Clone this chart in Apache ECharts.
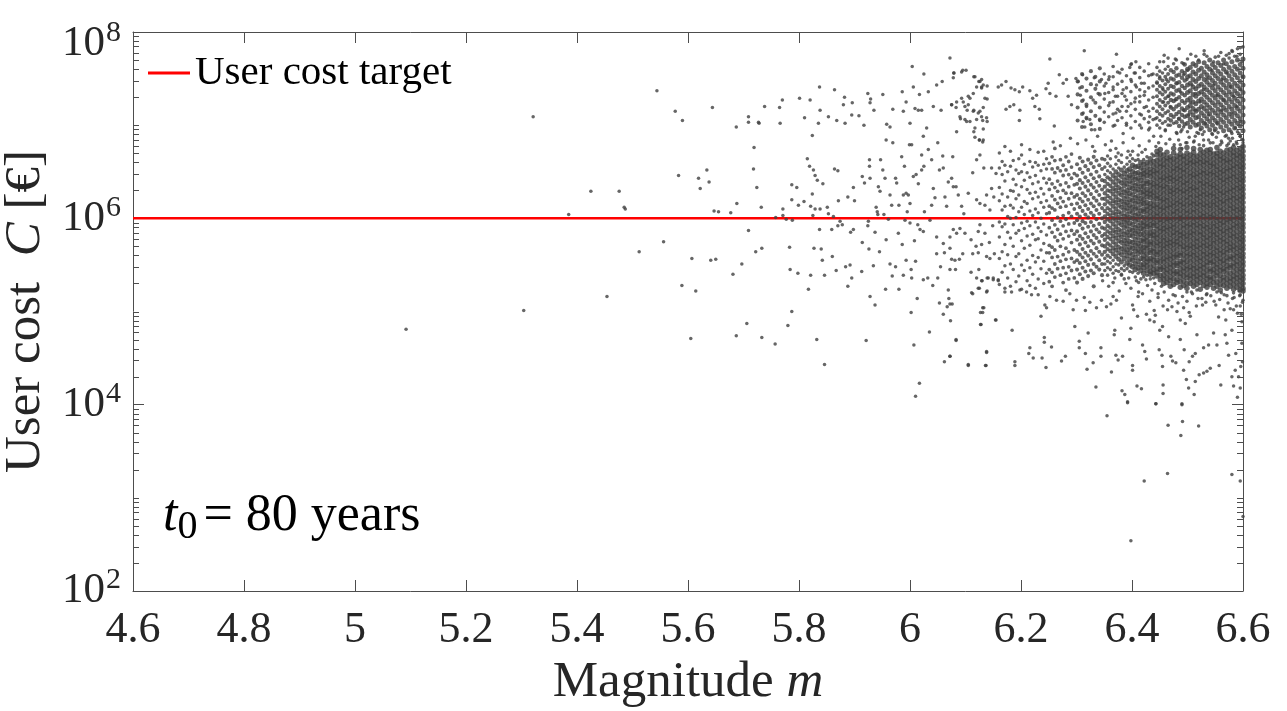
<!DOCTYPE html>
<html>
<head>
<meta charset="utf-8">
<script src="https://cdn.jsdelivr.net/npm/echarts@6/dist/echarts.min.js"></script>
<style>
  html, body { margin: 0; padding: 0; background: #ffffff; }
  #chart { width: 1287px; height: 711px; }
</style>
</head>
<body>
<div id="chart"></div>
<script>
// Axis ranges and labelled decades
const magnitudeMin = 4.6;
const magnitudeMax = 6.6;
const magnitudeStep = 0.2;
const costExpMin = 2;
const costExpMax = 8;
const costLabelExponents = [2, 4, 6, 8];
const targetCost = 1e6;

// Individual events, [magnitude, log10 of user cost in €]
const eventsWest = [
  [5.092,4.81],[5.304,5.01],[5.321,7.09],[5.385,6.04],[5.425,6.29],[5.476,6.29],[5.485,6.12],[5.487,6.10],[5.512,5.64],[5.454,5.16],
  [5.544,7.37],[5.577,7.15],[5.590,7.05],[5.644,7.19],[5.687,6.98],[5.709,7.09],[5.709,7.03],[5.727,7.03],[5.728,7.02],[5.738,7.20],
  [5.770,7.27],[5.765,7.19],[5.766,7.02],[5.801,7.29],[5.820,7.27],[5.837,7.41],[5.864,7.38],[5.810,7.08],[5.835,7.02],[5.838,7.16],
  [5.853,7.09],[5.868,7.05],[5.883,7.02],[5.880,7.22],[5.896,7.24],[5.895,7.11],[5.908,7.10],[5.882,7.30],[5.917,7.00],[5.924,7.34],
  [5.929,7.28],[5.928,7.24],[5.935,7.16],[5.951,7.33],[5.958,7.01],[5.964,6.98],[5.969,7.17],[5.986,7.36],[6.004,7.63],[6.025,7.55],
  [6.006,7.41],[5.993,7.25],[5.988,7.15],[6.009,7.18],[6.015,7.16],[6.021,7.16],[6.017,7.33],[6.033,7.36],[6.048,7.43],[6.058,7.47],
  [6.079,7.56],[6.093,7.57],[6.101,7.59],[6.115,7.52],[6.126,7.47],[6.129,7.41],[6.139,7.42],[6.078,7.51],[6.042,7.20],[6.056,7.16],
  [6.075,7.22],[6.083,7.19],[6.096,7.25],[6.105,7.22],[6.114,7.15],[6.123,7.13],[6.129,7.09],[6.139,7.04],[6.091,7.07],[6.102,7.04],
  [6.108,7.29],[6.135,7.29],[6.117,6.97],[6.030,6.97],[6.024,6.88],[6.000,7.02],
  [5.719,6.76],[5.718,6.53],[5.724,6.33],[5.583,6.46],[5.619,6.43],[5.622,6.32],[5.634,6.52],[5.638,6.39],[5.647,6.08],[5.655,6.07],
  [5.677,6.06],[5.688,6.16],[5.732,6.12],[5.815,6.64],[5.819,6.56],[5.826,6.52],[5.829,6.46],[5.833,6.41],[5.843,6.37],[5.824,6.89],
  [5.787,6.36],[5.796,6.33],[5.787,6.20],[5.771,6.10],[5.799,6.14],[5.809,6.18],[5.824,6.26],[5.821,6.13],[5.829,6.10],[5.838,6.10],
  [5.851,6.12],[5.825,6.03],[5.853,6.05],[5.864,6.53],[5.870,6.51],[5.871,6.19],[5.888,6.23],[5.900,6.19],[5.898,6.33],[5.914,6.45],
  [5.927,6.63],[5.927,6.56],[5.928,6.43],[5.918,6.38],[5.947,6.63],[5.951,6.52],[5.943,6.34],[5.946,6.29],[5.955,6.43],[5.957,6.84],
  [5.969,6.81],[5.974,6.43],[5.976,6.38],[5.964,6.25],[5.967,6.14],[5.939,6.12],[5.941,6.07],[5.953,6.04],[5.980,6.14],[5.988,6.25],
  [5.985,6.66],[5.990,6.56],[5.993,6.27],[5.997,6.25],[6.000,6.16],[5.995,6.07],[6.006,6.45],[6.011,6.47],[6.015,6.37],[6.021,6.52],
  [6.025,6.56],[6.021,6.68],[5.999,6.79],[6.003,6.79],[6.033,6.74],[6.039,6.63],[6.050,6.81],[6.059,6.67],[6.077,6.66],[6.053,6.52],
  [6.060,6.54],[6.069,6.39],[6.075,6.43],[6.078,6.34],[6.083,6.34],[6.087,6.25],[6.063,6.23],[6.066,6.13],[6.042,6.32],[6.045,6.22],
  [6.039,6.14],[6.026,6.07],[6.093,6.13],[6.097,6.05],[6.105,6.27],[6.113,6.49],[6.120,6.63],[6.126,6.68],[6.131,6.82],[6.125,6.84],
  [6.120,6.20],[6.126,6.16],[6.135,6.14],[6.138,6.25],[6.147,6.32],[6.155,6.48],[6.147,6.54],[6.133,6.54],[6.151,6.23],[6.144,6.09],
  [5.709,5.87],[5.556,5.75],[5.607,5.57],[5.641,5.55],[5.650,5.56],[5.589,5.28],[5.614,5.22],[5.605,4.71],[5.687,4.74],[5.706,4.87],
  [5.733,4.72],[5.757,4.65],[5.780,4.85],[5.787,5.00],[5.697,5.51],[5.681,5.40],[5.722,5.64],[5.733,5.68],[5.783,5.69],[5.784,5.45],
  [5.798,5.41],[5.817,5.24],[5.821,5.39],[5.827,5.68],[5.840,5.67],[5.842,5.55],[5.846,5.39],[5.860,5.59],[5.867,5.44],[5.837,5.88],
  [5.859,5.88],[5.878,5.93],[5.893,5.85],[5.884,5.48],[5.892,5.50],[5.895,5.36],[5.888,5.27],[5.913,5.43],[5.914,5.74],[5.926,5.67],
  [5.924,5.92],[5.937,5.85],[5.934,5.49],[5.928,5.16],[5.937,5.07],[5.921,4.69],[5.832,4.70],[5.846,4.43],[5.945,5.64],[5.957,5.77],
  [5.956,5.24],[5.964,5.51],[5.968,5.38],[5.974,5.48],[5.980,5.24],[5.986,5.72],[5.993,5.55],[6.010,5.54],[6.002,5.45],[5.988,5.39],
  [6.003,5.36],[6.008,5.76],[6.013,5.14],[6.002,4.99],[6.007,4.64],[6.017,4.23],[6.010,4.09],[6.024,5.34],[6.032,5.36],[6.041,5.28],
  [6.050,5.36],[6.048,5.62],[6.060,5.73],[6.062,5.63],[6.072,5.68],[6.075,5.56],[6.081,5.55],[6.089,5.56],[6.095,5.62],[6.055,5.48],
  [6.082,5.45],[6.069,5.23],[6.070,5.14],[6.067,5.05],[6.076,5.08],[6.060,4.97],[6.053,5.09],[6.035,4.78],[6.073,4.90],[6.083,4.69],
  [6.072,4.52],[6.062,4.46],[6.105,4.43],[6.137,4.42],[6.138,4.56],[6.128,4.86],[6.127,4.99],[6.133,5.04],[6.113,5.19],[6.125,5.25],
  [6.139,5.22],[6.155,4.91],[6.110,5.42],[6.124,5.45],[6.130,5.33],[6.141,5.36],[6.150,5.36],[6.159,5.34],[6.113,5.62],[6.123,5.63],
  [6.138,5.59],[6.144,5.57],[6.152,5.62],[6.143,5.74],[6.129,5.72],[6.119,5.70],[6.110,5.77],[6.090,5.89],[6.078,5.88],[6.084,5.84],
  [6.099,5.84],[6.123,5.86],[6.135,5.84],[6.126,5.93],[6.149,5.92],[6.072,5.80],[6.048,5.80],[6.024,5.86],[6.018,5.88],[6.036,5.98],
  [6.014,5.93],[6.000,5.95],[5.991,5.98],[5.979,5.84],[5.961,5.99],[5.942,6.04],[5.925,5.97],[5.898,5.88],[5.874,5.97],[5.870,5.92],
  [5.777,5.99],[5.771,6.03],[5.758,6.01],[5.788,5.98],[5.862,6.02]
];

// Events of the upper band, [magnitude, log10 of user cost in €]
const eventsUpperRight = [
  [6.314,7.80],[6.372,7.76],[6.252,7.71],[6.485,7.82],[6.458,7.75],[6.457,7.68],[6.478,7.71],[6.493,7.66],[6.506,7.76],[6.520,7.70],
  [6.530,7.80],[6.535,7.74],[6.547,7.68],[6.556,7.74],[6.565,7.66],[6.575,7.77],[6.581,7.79],[6.589,7.74],[6.595,7.83],[6.598,7.68],
  [6.399,7.66],[6.407,7.68],[6.396,7.62],[6.404,7.56],[6.378,7.56],[6.072,7.72],[6.079,7.56],[6.095,7.59],[6.117,7.52],[6.129,7.49],
  [6.124,7.47],[6.132,7.43],[6.120,7.41],[6.129,7.40],[6.114,7.34],[6.105,7.31],[6.093,7.29],[6.084,7.25],[6.075,7.22],[6.099,7.20],
  [6.103,7.16],[6.115,7.16],[6.126,7.15],[6.139,7.28],[6.132,7.19],[6.090,7.09],[6.099,7.06],[6.108,7.04],[6.120,7.06],[6.131,7.05],
  [6.138,7.08],[6.132,6.96],[6.115,6.93],[6.117,6.87],[6.125,6.84],[6.132,6.84],[6.084,6.93],[6.165,7.43],[6.173,7.47],[6.159,7.41],
  [6.182,7.40],[6.189,7.38],[6.197,7.36],[6.203,7.41],[6.187,7.22],[6.173,7.17],[6.180,7.20],[6.198,7.16],[6.197,7.05],[6.216,7.37],
  [6.221,7.29],[6.228,7.32],[6.225,7.20],[6.233,7.17],[6.234,7.07],[6.245,7.39],[6.249,7.45],[6.252,7.34],[6.260,6.99],[6.263,7.31],
  [6.269,7.54],[6.276,7.45],[6.282,7.49],[6.285,7.31],[6.291,7.22],[6.299,7.50],[6.303,7.47],[6.311,7.54],[6.306,7.40],[6.307,7.32],
  [6.312,7.27],[6.318,7.20],[6.312,7.13],[6.318,7.07],[6.315,6.98],[6.327,6.95],[6.333,6.95],[6.312,7.04],[6.324,7.06],[6.342,7.05],
  [6.332,7.51],[6.336,7.43],[6.345,7.49],[6.353,7.45],[6.359,7.52],[6.366,7.41],[6.370,7.31],[6.360,7.24],[6.351,7.34],[6.339,7.34],
  [6.330,7.27],[6.384,7.38],[6.387,7.31],[6.393,7.20],[6.378,7.15],[6.371,7.13],[6.369,7.00],[6.390,7.00],[6.384,6.91],[6.399,7.47],
  [6.408,7.41],[6.417,7.45],[6.423,7.36],[6.414,7.31],[6.405,7.25],[6.426,7.20],[6.417,7.11],[6.432,7.09],[6.417,6.97],[6.432,6.97],
  [6.442,7.07],[6.439,6.88],[6.448,6.81],[6.435,7.54],[6.445,7.45],[6.450,7.52],[6.462,7.49],[6.456,7.38],[6.466,7.31],[6.457,7.25],
  [6.469,7.20],[6.478,7.27],[6.487,7.36],[6.481,7.45],[6.493,7.54],[6.499,7.49],[6.500,7.59],[6.508,7.43],[6.514,7.34],[6.505,7.25],
  [6.493,7.16],[6.484,7.07],[6.469,7.00],[6.460,6.95],[6.481,6.91],[6.493,6.98],[6.502,7.11],[6.514,7.16],[6.523,7.25],[6.529,7.38],
  [6.535,7.50],[6.544,7.59],[6.547,7.43],[6.553,7.32],[6.538,7.11],[6.532,7.02],[6.523,6.95],[6.514,6.88],[6.499,6.81],[6.490,6.75],
  [6.529,6.84],[6.544,6.91],[6.553,7.02],[6.562,7.16],[6.565,7.27],[6.562,7.49],[6.571,7.56],[6.577,7.41],[6.583,7.31],[6.580,7.13],
  [6.589,7.20],[6.596,7.38],[6.599,7.52],[6.595,7.04],[6.586,6.97],[6.574,6.86],[6.562,6.81],[6.595,6.88],[6.599,6.77],[6.583,6.79]
];

// Sparse events below the main cluster, [magnitude, log10 of user cost in €]
const eventsLowerTail = [
  [6.072,5.08],[6.083,4.70],[6.072,4.52],[6.105,4.42],[6.136,4.42],[6.138,4.57],[6.127,4.86],[6.131,4.99],[6.131,5.04],[6.154,4.91],
  [6.184,4.80],[6.189,4.46],[6.189,4.42],[6.216,4.61],[6.214,4.55],[6.222,4.50],[6.238,4.50],[6.245,4.40],[6.242,4.72],[6.242,4.67],
  [6.255,4.62],[6.236,4.95],[6.246,5.04],[6.273,4.47],[6.280,4.52],[6.297,4.84],[6.294,5.02],[6.305,4.68],[6.305,4.61],[6.316,5.01],
  [6.321,4.77],[6.316,4.55],[6.319,4.38],[6.330,4.45],[6.344,4.61],[6.344,4.52],[6.335,4.19],[6.363,4.35],[6.369,4.80],[6.368,4.75],
  [6.371,4.53],[6.375,4.48],[6.383,4.52],[6.382,4.15],[6.387,4.11],[6.392,4.03],[6.381,4.93],[6.398,4.82],[6.396,4.70],[6.401,4.42],
  [6.401,4.37],[6.409,4.20],[6.417,4.17],[6.419,4.64],[6.410,4.95],[6.423,4.57],[6.426,4.49],[6.432,4.91],[6.440,4.89],[6.443,4.01],
  [6.450,4.80],[6.455,4.84],[6.449,4.59],[6.454,4.53],[6.455,4.41],[6.456,4.21],[6.456,4.12],[6.466,4.73],[6.470,4.52],[6.473,4.47],
  [6.479,4.45],[6.487,4.70],[6.490,4.01],[6.494,4.59],[6.493,4.37],[6.498,4.27],[6.502,4.18],[6.512,4.11],[6.503,4.46],[6.509,4.52],
  [6.514,4.55],[6.517,4.75],[6.514,4.25],[6.521,4.32],[6.529,4.34],[6.535,4.36],[6.541,4.39],[6.529,4.61],[6.538,4.64],[6.547,4.77],
  [6.553,4.64],[6.557,4.42],[6.560,4.21],[6.566,5.02],[6.569,4.91],[6.574,4.53],[6.580,4.30],[6.583,4.20],[6.586,4.37],[6.590,4.08],
  [6.595,4.18],[6.596,4.41],[6.598,4.66],[6.598,4.89],[6.599,4.46],[6.592,4.30],[6.587,4.55],[6.580,4.80],[6.571,4.66],[6.568,4.75],
  [6.583,5.02],[6.590,4.98],[6.595,5.06],[6.505,4.95],[6.496,4.87],[6.487,4.91],[6.481,5.00],[6.493,5.04],[6.464,5.02],[6.456,5.06],
  [6.440,5.01],[6.432,5.11],[6.426,4.97],[6.411,5.16],[6.401,5.07],[6.372,5.12],[6.366,5.16],[6.354,5.05],[6.345,5.12],[6.336,5.04],
  [6.324,5.10],[6.314,5.15],[6.300,5.12],[6.288,5.19],[6.276,5.11],[6.264,5.12],[6.252,5.16],[6.243,5.07],[6.231,5.18],[6.219,5.18],
  [6.210,5.21],[6.198,5.23],[6.183,5.21],[6.171,5.25],[6.159,5.33],[6.150,5.34],[6.139,5.36],[6.129,5.33],[6.120,5.36],[6.111,5.20],
  [6.123,5.25],[6.138,5.21],[6.072,5.45],
  [6.355,3.88],[6.392,4.02],[6.443,4.01],[6.490,4.00],[6.465,3.78],[6.491,3.82],[6.520,3.77],[6.488,3.67],[6.464,3.26],[6.422,3.18],
  [6.580,3.25],[6.595,3.18],[6.600,2.80],[6.398,2.54],
  [6.362,5.08],[6.403,5.02],[6.412,5.21],[6.442,4.96],[6.447,5.19],[6.472,5.05],[6.478,5.17],[6.503,4.99],[6.507,5.21],[6.527,5.07],
  [6.534,5.18],[6.556,4.94],[6.561,5.20],[6.577,5.03],[6.584,5.15],[6.597,4.97],[6.600,5.12],[6.593,5.22],[6.548,5.11],[6.519,5.14]
];

// Events along the upper and lower edges of the main cluster, [magnitude, log10 of user cost in €]
const eventsClusterEdge = [
  [6.258,6.82],[6.271,6.78],[6.289,6.86],[6.302,6.80],[6.317,6.84],[6.329,6.77],[6.338,6.88],[6.352,6.79],[6.363,6.83],[6.371,6.75],
  [6.384,6.81],[6.393,6.72],[6.402,6.86],[6.413,6.78],[6.424,6.74],[6.431,6.83],[6.443,6.77],[6.452,6.88],[6.461,6.80],[6.468,6.85],
  [6.476,6.79],[6.484,6.84],[6.497,6.81],[6.503,6.87],[6.512,6.83],[6.521,6.79],[6.527,6.90],[6.538,6.84],[6.546,6.81],[6.552,6.87],
  [6.561,6.83],[6.568,6.88],[6.574,6.80],[6.581,6.86],[6.588,6.82],[6.593,6.91],[6.598,6.85],[6.600,6.81],[6.579,6.93],[6.549,6.94],
  [6.517,6.92],[6.488,6.93],[6.436,6.69],[6.418,6.71],[6.397,6.68],[6.375,6.70],[6.356,6.67],[6.333,6.72],
  [6.347,5.33],[6.358,5.27],[6.369,5.36],[6.377,5.22],[6.389,5.30],[6.398,5.25],[6.408,5.33],[6.419,5.19],[6.428,5.28],[6.436,5.23],
  [6.447,5.15],[6.458,5.21],[6.466,5.12],[6.474,5.18],[6.483,5.09],[6.491,5.16],[6.499,5.11],[6.509,5.19],[6.516,5.06],[6.526,5.14],
  [6.533,5.10],[6.542,5.17],[6.551,5.07],[6.558,5.13],[6.566,5.18],[6.573,5.09],[6.581,5.14],[6.588,5.06],[6.594,5.17],[6.599,5.10],
  [6.381,5.39],[6.394,5.36],[6.412,5.31],[6.425,5.34],[6.441,5.30],[6.453,5.27]
];

// Strips of the lower cluster's left flank: [magnitude, log10 cost, log10 cost, ...]
const lowerClusterOuterRows = [
  [6.161, 5.29,5.57,5.80,5.96,6.19,6.33,6.54,6.70],
  [6.166, 5.42,5.64,5.91,6.09,6.26,6.47,6.61],
  [6.171, 5.21,5.49,5.72,5.94,6.13,6.40,6.57,6.77],
  [6.176, 5.36,5.61,5.85,6.02,6.23,6.50],
  [6.181, 5.27,5.51,5.79,6.00,6.14,6.30,6.56,6.72],
  [6.186, 5.45,5.70,5.93,6.11,6.29,6.42,6.62],
  [6.191, 5.32,5.59,5.84,6.01,6.21,6.36,6.52],
  [6.196, 5.38,5.62,5.87,6.07,6.25,6.48,6.64],
  [6.201, 5.24,5.50,5.76,5.95,6.12,6.34,6.50,6.68,6.79],
  [6.206, 5.44,5.68,5.89,6.04,6.18,6.41,6.58],
  [6.211, 5.33,5.55,5.81,5.97,6.16,6.31,6.49],
  [6.216, 5.28,5.47,5.71,5.92,6.08,6.27,6.44,6.61,6.74],
  [6.221, 5.40,5.60,5.83,6.03,6.21,6.37,6.55],
  [6.226, 5.25,5.53,5.77,5.96,6.10,6.28,6.46,6.60],
  [6.231, 5.35,5.58,5.78,5.90,6.06,6.23,6.39,6.57,6.71],
  [6.236, 5.46,5.66,5.86,6.00,6.17,6.32,6.51],
  [6.241, 5.30,5.54,5.73,5.94,6.12,6.26,6.43,6.58,6.72],
  [6.246, 5.41,5.63,5.82,6.05,6.19,6.38,6.53,6.64],
  [6.251, 5.32,5.45,5.63,5.71,5.90,6.06,6.13,6.31,6.42,6.59],
  [6.256, 5.27,5.42,5.58,5.69,5.85,5.98,6.11,6.24,6.37,6.53,6.66],
  [6.261, 5.37,5.51,5.66,5.80,5.93,6.09,6.20,6.33,6.49,6.62,6.75],
  [6.266, 5.46,5.59,5.76,5.88,6.01,6.16,6.29,6.40,6.54],
  [6.271, 5.39,5.54,5.70,5.83,5.97,6.12,6.22,6.36,6.51,6.63],
  [6.276, 5.31,5.47,5.61,5.78,5.92,6.03,6.18,6.30,6.46,6.57],
  [6.281, 5.23,5.41,5.56,5.68,5.86,5.99,6.13,6.27,6.38,6.52,6.66],
  [6.286, 5.35,5.48,5.64,5.81,5.94,6.06,6.21,6.34,6.47,6.61],
  [6.291, 5.44,5.57,5.74,5.87,6.02,6.15,6.27,6.43,6.55,6.69],
  [6.296, 5.36,5.53,5.66,5.83,5.95,6.10,6.23,6.36,6.48],
  [6.301, 5.31,5.45,5.55,5.64,5.77,5.86,5.98,6.05,6.16,6.25,6.37,6.46,6.58],
  [6.306, 5.40,5.52,5.61,5.72,5.81,5.93,6.02,6.12,6.21,6.32,6.41,6.53,6.65],
  [6.311, 5.35,5.47,5.58,5.67,5.78,5.89,5.97,6.08,6.18,6.27,6.38,6.49,6.61],
  [6.316, 5.43,5.54,5.63,5.74,5.84,5.95,6.04,6.14,6.24,6.34,6.44,6.56],
  [6.321, 5.38,5.50,5.60,5.70,5.80,5.91,6.01,6.10,6.20,6.30,6.40,6.52,6.63],
  [6.326, 5.44,5.56,5.65,5.76,5.86,5.96,6.06,6.16,6.26,6.36,6.47,6.59],
  [6.331, 5.27,5.41,5.51,5.62,5.73,5.82,5.92,6.03,6.13,6.22,6.33,6.43,6.55,6.66],
  [6.336, 5.48,5.59,5.68,5.79,5.88,5.99,6.09,6.19,6.29,6.39,6.50,6.62],
  [6.341, 5.45,5.55,5.64,5.75,5.85,5.94,6.05,6.15,6.25,6.35,6.45,6.57],
  [6.346, 5.39,5.51,5.61,5.71,5.81,5.90,6.00,6.11,6.21,6.31,6.41,6.53,6.64],
  [6.351, 5.44,5.51,5.57,6.47,6.55,6.63],
  [6.356, 5.39,5.47,5.54,6.51,6.59],
  [6.361, 5.45,5.52,5.58,6.49,6.56,6.64,6.73],
  [6.366, 5.31,5.41,5.48,5.55,6.53],
  [6.371, 5.44,5.51,6.58,6.66],
  [6.376, 5.43,5.50,6.54,6.62],
  [6.381, 5.40,5.46,6.60,6.68],
  [6.386, 5.35,5.44,5.49,6.55],
  [6.391, 5.46,6.58,6.65],
  [6.396, 5.43,6.61],
  [6.401, 5.42,6.64,6.72],
  [6.406, 5.37,6.62],
  [6.411, 5.41,6.63,6.68],
  [6.416, 5.35],
  [6.421, 5.37,6.63],
  [6.427, 5.39,6.66],
  [6.433, 5.35],
  [6.439, 5.36,6.67],
  [6.487, 6.79],[6.499, 5.21],[6.511, 6.82],[6.517, 5.23],[6.529, 6.78],[6.535, 5.19],[6.541, 6.81],[6.553, 5.21],
  [6.559, 6.79],[6.571, 5.17,6.78],[6.577, 6.83],[6.583, 5.20],[6.589, 6.80],[6.595, 5.18],[6.600, 6.84]
];

// Strips of the lower cluster's solid core: [magnitude, log10 cost, log10 cost, ...]
const lowerClusterCoreRows = [
  [6.351, 5.64,5.70,5.77,5.83,5.89,5.96,6.02,6.08,6.15,6.21,6.27,6.34,6.40],
  [6.356, 5.60,5.67,5.73,5.80,5.86,5.92,5.99,6.05,6.11,6.18,6.24,6.30,6.37,6.44],
  [6.361, 5.65,5.71,5.78,5.84,5.90,5.97,6.03,6.09,6.16,6.22,6.29,6.35,6.42],
  [6.366, 5.62,5.68,5.75,5.81,5.87,5.94,6.00,6.06,6.13,6.19,6.26,6.32,6.39,6.46],
  [6.371, 5.59,5.66,5.72,5.79,5.85,5.91,5.98,6.04,6.10,6.17,6.23,6.30,6.36,6.43,6.50],
  [6.376, 5.56,5.63,5.69,5.76,5.82,5.88,5.95,6.01,6.07,6.14,6.20,6.27,6.33,6.40,6.47],
  [6.381, 5.53,5.61,5.67,5.74,5.80,5.86,5.93,5.99,6.05,6.12,6.18,6.25,6.31,6.38,6.45,6.52],
  [6.386, 5.57,5.64,5.70,5.76,5.83,5.90,5.96,6.02,6.09,6.15,6.21,6.28,6.35,6.41,6.48],
  [6.391, 5.52,5.60,5.66,5.73,5.79,5.85,5.92,5.98,6.04,6.11,6.17,6.24,6.30,6.37,6.44,6.51],
  [6.396, 5.50,5.56,5.63,5.69,5.75,5.82,5.88,5.95,6.01,6.08,6.14,6.20,6.27,6.33,6.40,6.46,6.53],
  [6.401, 5.48,5.55,5.61,5.68,5.74,5.81,5.87,5.93,6.00,6.06,6.12,6.19,6.25,6.32,6.38,6.44,6.50,6.57],
  [6.406, 5.45,5.51,5.58,5.65,5.71,5.77,5.84,5.90,5.97,6.03,6.10,6.16,6.22,6.29,6.35,6.42,6.48,6.55],
  [6.411, 5.47,5.54,5.62,5.67,5.73,5.80,5.86,5.92,5.99,6.05,6.11,6.18,6.24,6.31,6.37,6.43,6.49,6.56],
  [6.416, 5.44,5.50,5.57,5.64,5.70,5.76,5.83,5.89,5.95,6.02,6.08,6.15,6.21,6.28,6.34,6.41,6.47,6.54,6.60],
  [6.421, 5.41,5.47,5.51,5.56,5.60,5.65,5.69,5.75,5.78,5.83,5.88,5.92,5.96,6.01,6.07,6.10,6.16,6.20,6.25,6.29,6.34,6.38,6.44,6.48,6.52,6.58],
  [6.427, 5.44,5.49,5.53,5.57,5.62,5.68,5.71,5.76,5.80,5.85,5.91,5.94,5.99,6.04,6.09,6.13,6.17,6.23,6.27,6.31,6.37,6.40,6.46,6.50,6.55,6.60],
  [6.433, 5.40,5.43,5.48,5.54,5.57,5.63,5.66,5.72,5.75,5.81,5.84,5.89,5.93,5.98,6.02,6.07,6.12,6.16,6.22,6.26,6.30,6.35,6.39,6.45,6.49,6.53,6.59,6.64],
  [6.439, 5.41,5.45,5.50,5.55,5.59,5.64,5.68,5.73,5.78,5.82,5.86,5.92,5.95,6.00,6.05,6.10,6.14,6.19,6.24,6.28,6.33,6.37,6.42,6.47,6.51,6.56,6.61],
  [6.445, 5.38,5.42,5.46,5.52,5.55,5.61,5.64,5.70,5.74,5.79,5.83,5.88,5.92,5.97,6.02,6.06,6.11,6.15,6.21,6.24,6.29,6.34,6.38,6.43,6.48,6.52,6.57,6.62,6.68,6.72],
  [6.451, 5.34,5.39,5.45,5.48,5.53,5.58,5.63,5.67,5.72,5.76,5.81,5.86,5.90,5.95,5.99,6.04,6.09,6.13,6.18,6.22,6.27,6.32,6.36,6.41,6.45,6.50,6.55,6.59,6.64,6.69,6.74],
  [6.457, 5.30,5.35,5.39,5.44,5.48,5.53,5.57,5.62,5.67,5.71,5.76,5.80,5.85,5.89,5.93,5.98,6.03,6.08,6.12,6.17,6.21,6.26,6.31,6.35,6.40,6.44,6.49,6.54,6.58,6.63,6.68],
  [6.463, 5.31,5.36,5.41,5.45,5.50,5.55,5.59,5.64,5.69,5.73,5.77,5.82,5.87,5.91,5.96,6.00,6.05,6.10,6.14,6.19,6.23,6.28,6.33,6.37,6.42,6.46,6.51,6.56,6.61,6.65,6.71],
  [6.469, 5.27,5.33,5.37,5.42,5.47,5.51,5.56,5.60,5.65,5.70,5.74,5.78,5.83,5.88,5.92,5.97,6.01,6.06,6.11,6.15,6.20,6.25,6.29,6.33,6.39,6.43,6.47,6.52,6.57,6.62,6.66],
  [6.475, 5.29,5.35,5.40,5.44,5.49,5.53,5.58,5.62,5.67,5.72,5.76,5.81,5.85,5.90,5.94,5.99,6.04,6.08,6.13,6.17,6.22,6.27,6.31,6.36,6.41,6.45,6.50,6.54,6.59,6.64,6.70,6.75],
  [6.481, 5.31,5.34,5.40,5.43,5.49,5.52,5.58,5.61,5.66,5.71,5.75,5.79,5.84,5.88,5.93,5.98,6.02,6.07,6.11,6.16,6.20,6.25,6.30,6.34,6.39,6.43,6.48,6.53,6.57,6.62,6.67],
  [6.487, 5.26,5.32,5.37,5.41,5.46,5.51,5.54,5.60,5.63,5.69,5.73,5.78,5.82,5.86,5.91,5.96,6.00,6.04,6.09,6.14,6.18,6.23,6.28,6.32,6.37,6.42,6.46,6.51,6.55,6.60,6.65,6.69,6.74],
  [6.493, 5.28,5.33,5.38,5.43,5.47,5.52,5.56,5.61,5.66,5.70,5.75,5.80,5.84,5.89,5.93,5.98,6.02,6.07,6.12,6.16,6.21,6.26,6.30,6.35,6.39,6.44,6.49,6.53,6.58,6.63,6.67],
  [6.499, 5.25,5.30,5.36,5.40,5.45,5.49,5.54,5.59,5.63,5.68,5.72,5.77,5.81,5.86,5.91,5.95,6.00,6.05,6.09,6.14,6.19,6.23,6.28,6.32,6.37,6.41,6.46,6.51,6.56,6.60,6.65,6.70,6.76],
  [6.505, 5.30,5.35,5.39,5.44,5.48,5.53,5.58,5.62,5.67,5.71,5.76,5.81,5.85,5.90,5.94,5.99,6.03,6.08,6.13,6.17,6.22,6.26,6.31,6.35,6.40,6.45,6.49,6.54,6.59,6.63,6.68],
  [6.511, 5.27,5.32,5.37,5.41,5.46,5.50,5.55,5.60,5.64,5.69,5.73,5.78,5.83,5.87,5.92,5.96,6.01,6.06,6.10,6.15,6.19,6.24,6.29,6.33,6.38,6.43,6.47,6.52,6.57,6.61,6.66,6.71,6.75],
  [6.517, 5.29,5.34,5.38,5.43,5.47,5.52,5.57,5.61,5.66,5.70,5.75,5.79,5.84,5.89,5.93,5.98,6.02,6.07,6.12,6.16,6.21,6.25,6.30,6.34,6.39,6.44,6.48,6.53,6.58,6.62,6.67],
  [6.523, 5.24,5.31,5.36,5.40,5.45,5.49,5.54,5.58,5.63,5.68,5.72,5.77,5.82,5.86,5.91,5.95,6.00,6.04,6.09,6.14,6.18,6.23,6.27,6.32,6.37,6.41,6.46,6.50,6.55,6.60,6.64,6.69,6.74],
  [6.529, 5.28,5.33,5.38,5.42,5.47,5.51,5.56,5.61,5.65,5.70,5.74,5.79,5.83,5.88,5.92,5.97,6.02,6.06,6.11,6.15,6.20,6.25,6.29,6.34,6.38,6.43,6.48,6.52,6.57,6.61,6.66,6.71],
  [6.535, 5.26,5.30,5.35,5.39,5.44,5.49,5.53,5.58,5.62,5.67,5.71,5.76,5.80,5.85,5.90,5.94,5.99,6.03,6.08,6.13,6.17,6.22,6.26,6.31,6.36,6.40,6.45,6.49,6.54,6.59,6.63,6.68,6.73],
  [6.541, 5.29,5.34,5.37,5.43,5.46,5.52,5.55,5.60,5.64,5.69,5.73,5.78,5.82,5.87,5.91,5.96,6.01,6.05,6.10,6.14,6.19,6.24,6.28,6.33,6.37,6.42,6.47,6.51,6.56,6.60,6.65,6.70,6.74],
  [6.547, 5.25,5.31,5.36,5.41,5.45,5.50,5.54,5.59,5.63,5.68,5.73,5.77,5.82,5.86,5.91,5.95,6.00,6.04,6.09,6.14,6.18,6.23,6.27,6.32,6.36,6.41,6.46,6.50,6.55,6.59,6.64,6.69],
  [6.553, 5.27,5.32,5.38,5.42,5.47,5.51,5.56,5.60,5.65,5.69,5.74,5.79,5.83,5.88,5.92,5.97,6.01,6.06,6.11,6.15,6.20,6.24,6.29,6.33,6.38,6.43,6.47,6.52,6.56,6.61,6.66,6.70,6.76],
  [6.559, 5.23,5.29,5.34,5.39,5.44,5.48,5.53,5.57,5.62,5.66,5.71,5.76,5.80,5.85,5.89,5.94,5.98,6.03,6.08,6.12,6.17,6.21,6.26,6.30,6.35,6.40,6.44,6.49,6.53,6.58,6.63,6.67,6.72],
  [6.565, 5.28,5.33,5.37,5.43,5.46,5.51,5.55,5.60,5.64,5.69,5.74,5.78,5.83,5.87,5.92,5.96,6.01,6.06,6.10,6.15,6.19,6.24,6.28,6.33,6.38,6.42,6.47,6.51,6.56,6.61,6.65,6.70],
  [6.571, 5.25,5.30,5.35,5.40,5.45,5.49,5.54,5.58,5.63,5.67,5.72,5.76,5.81,5.86,5.90,5.95,5.99,6.04,6.08,6.13,6.18,6.22,6.27,6.31,6.36,6.41,6.45,6.50,6.54,6.59,6.63,6.68,6.73],
  [6.577, 5.27,5.32,5.36,5.41,5.47,5.50,5.56,5.59,5.65,5.69,5.73,5.78,5.82,5.87,5.91,5.96,6.00,6.05,6.10,6.14,6.19,6.23,6.28,6.32,6.37,6.42,6.46,6.51,6.55,6.60,6.64,6.69,6.74],
  [6.583, 5.24,5.29,5.34,5.38,5.43,5.48,5.52,5.57,5.61,5.66,5.70,5.75,5.80,5.84,5.89,5.93,5.98,6.02,6.07,6.11,6.16,6.21,6.25,6.30,6.34,6.39,6.44,6.48,6.53,6.57,6.62,6.67,6.71,6.76],
  [6.589, 5.26,5.31,5.36,5.40,5.45,5.50,5.54,5.59,5.63,5.68,5.72,5.77,5.81,5.86,5.91,5.95,6.00,6.04,6.09,6.13,6.18,6.22,6.27,6.32,6.36,6.41,6.45,6.50,6.55,6.59,6.64,6.68,6.73],
  [6.595, 5.23,5.28,5.33,5.37,5.42,5.46,5.51,5.56,5.60,5.65,5.69,5.74,5.78,5.83,5.88,5.92,5.97,6.01,6.06,6.10,6.15,6.20,6.24,6.29,6.33,6.38,6.42,6.47,6.52,6.56,6.61,6.66,6.70,6.75],
  [6.600, 5.22,5.25,5.30,5.35,5.39,5.44,5.49,5.53,5.58,5.62,5.67,5.71,5.76,5.80,5.85,5.90,5.94,5.99,6.03,6.08,6.12,6.17,6.22,6.26,6.31,6.35,6.40,6.44,6.49,6.54,6.58,6.63,6.67,6.72,6.77]
];

// Strips of the upper band's left part and fringes: [magnitude, log10 cost, log10 cost, ...]
const upperBandOuterRows = [
  [6.302, 7.05,7.19,7.33,7.47],
  [6.310, 6.98,7.12,7.26,7.41,7.55],
  [6.318, 7.08,7.22,7.37,7.50],
  [6.326, 7.01,7.15,7.30,7.44,7.58],
  [6.334, 7.10,7.24,7.39,7.52],
  [6.342, 6.96,7.06,7.19,7.33,7.47,7.61],
  [6.350, 7.03,7.14,7.28,7.42,7.55],
  [6.358, 7.09,7.21,7.35,7.49],
  [6.366, 6.99,7.12,7.25,7.38,7.52,7.63],
  [6.374, 7.05,7.17,7.31,7.44,7.57],
  [6.382, 7.08,7.20,7.34,7.47,7.60],
  [6.390, 7.02,7.15,7.27,7.40,7.53],
  [6.398, 6.97,7.10,7.23,7.36,7.49,7.65],
  [6.406, 7.04,7.17,7.29,7.43,7.56],
  [6.414, 7.00,7.12,7.25,7.38,7.51,7.62],
  [6.422, 7.07,7.19,7.32,7.45,7.58],
  [6.430, 6.95,7.03,7.15,7.27,7.40,7.53,7.66],
  [6.438, 7.06,7.18,7.30,7.42,7.55],
  [6.445, 7.00,7.08,7.54,7.62],
  [6.450, 6.97,7.05,7.58,7.68],
  [6.455, 7.02,7.56],
  [6.460, 6.94,7.04,7.60],
  [6.465, 7.00,7.63,7.72],
  [6.475, 7.02,7.66],
  [6.480, 6.92,7.70],
  [6.490, 6.95,7.67],
  [6.500, 6.93,7.71],[6.515, 7.74],[6.520, 6.91],[6.530, 6.93,7.76],[6.545, 6.90],[6.550, 7.73],[6.555, 6.92],
  [6.560, 7.78],[6.570, 6.89,7.75],[6.575, 7.72],[6.580, 6.91,7.80],[6.585, 7.74],[6.590, 6.93,7.82],[6.595, 6.88,7.76],[6.600, 7.84]
];

// Strips of the upper band's dense core: [magnitude, log10 cost, log10 cost, ...]
const upperBandCoreRows = [
  [6.445, 7.15,7.23,7.31,7.38,7.46],
  [6.450, 7.12,7.20,7.27,7.35,7.42,7.50],
  [6.455, 7.10,7.17,7.25,7.33,7.40,7.48],
  [6.460, 7.13,7.21,7.29,7.36,7.44,7.52],
  [6.465, 7.07,7.15,7.24,7.31,7.39,7.47,7.55],
  [6.470, 7.05,7.11,7.19,7.27,7.34,7.42,7.50,7.59],
  [6.475, 7.09,7.17,7.26,7.33,7.41,7.49,7.57],
  [6.480, 7.03,7.12,7.20,7.28,7.37,7.45,7.53,7.61],
  [6.485, 6.99,7.07,7.14,7.22,7.30,7.38,7.46,7.54],
  [6.490, 7.04,7.11,7.18,7.26,7.34,7.42,7.51,7.58],
  [6.495, 7.01,7.09,7.16,7.24,7.32,7.40,7.48,7.56,7.65],
  [6.500, 7.02,7.10,7.19,7.27,7.35,7.43,7.52,7.60],
  [6.505, 6.98,7.06,7.14,7.21,7.29,7.37,7.45,7.53,7.62],
  [6.510, 7.03,7.11,7.18,7.25,7.33,7.41,7.49,7.57,7.66],
  [6.515, 7.00,7.08,7.15,7.23,7.31,7.39,7.47,7.55,7.64],
  [6.520, 7.01,7.09,7.17,7.26,7.34,7.42,7.50,7.59,7.68],
  [6.525, 6.97,7.05,7.13,7.20,7.28,7.36,7.44,7.53,7.61],
  [6.530, 7.02,7.10,7.18,7.25,7.33,7.41,7.49,7.57,7.67],
  [6.535, 6.99,7.07,7.15,7.22,7.30,7.38,7.46,7.54,7.63],
  [6.540, 6.95,7.04,7.12,7.19,7.27,7.35,7.43,7.51,7.60,7.70],
  [6.545, 7.00,7.08,7.16,7.24,7.32,7.40,7.48,7.56,7.65],
  [6.550, 6.96,7.05,7.13,7.21,7.29,7.37,7.45,7.53,7.62],
  [6.555, 7.02,7.10,7.17,7.25,7.33,7.41,7.50,7.58,7.67],
  [6.560, 6.98,7.06,7.14,7.22,7.30,7.38,7.46,7.55,7.64],
  [6.565, 6.94,7.03,7.11,7.19,7.27,7.35,7.43,7.51,7.60,7.70],
  [6.570, 6.99,7.08,7.16,7.24,7.32,7.40,7.48,7.57,7.66],
  [6.575, 6.95,7.04,7.12,7.20,7.28,7.36,7.44,7.53,7.62],
  [6.580, 7.01,7.09,7.17,7.25,7.33,7.41,7.49,7.58,7.68],
  [6.585, 6.97,7.05,7.13,7.21,7.29,7.37,7.45,7.54,7.63],
  [6.590, 7.02,7.10,7.18,7.26,7.34,7.42,7.51,7.60,7.70],
  [6.595, 6.99,7.07,7.15,7.23,7.31,7.39,7.47,7.56,7.65],
  [6.600, 6.94,7.03,7.11,7.19,7.27,7.35,7.43,7.52,7.61,7.71]
];

const serif = '"Liberation Serif", "Times New Roman", "DejaVu Serif", serif';
const axisColor = '#4d4d4d';
const textColor = '#262626';
const dotColor = '#404040';

function fromPairs(pairs) {
  return pairs.map(p => [p[0], Math.pow(10, p[1])]);
}
function fromRows(rows) {
  const out = [];
  rows.forEach(r => {
    for (let i = 1; i < r.length; i++) out.push([r[0], Math.pow(10, r[i])]);
  });
  return out;
}

const isolatedData = []
  .concat(fromPairs(eventsWest))
  .concat(fromPairs(eventsUpperRight))
  .concat(fromPairs(eventsLowerTail))
  .concat(fromPairs(eventsClusterEdge));
const flankData = []
  .concat(fromRows(lowerClusterOuterRows))
  .concat(fromRows(upperBandOuterRows));
const lowerCoreData = fromRows(lowerClusterCoreRows);
const upperCoreData = fromRows(upperBandCoreRows);

// Marker size grows towards the crowded right edge, where events overlap into a solid mass
function flankSize(v) { return v[0] < 6.25 ? 3.5 : v[0] < 6.30 ? 3.8 : v[0] < 6.35 ? 4.1 : 3.6; }
function lowerCoreSize(v) { return v[0] < 6.366 ? 4.4 : v[0] < 6.386 ? 5.0 : 5.5; }
function upperCoreSize(v) { return v[0] < 6.47 ? 4.0 : v[0] < 6.50 ? 4.5 : 5.0; }

// Minor log ticks: 2..9 × each decade, plus the unlabelled odd decades
const minorTickValues = [];
for (let d = costExpMin; d < costExpMax; d++) {
  for (let k = 2; k <= 9; k++) minorTickValues.push(k * Math.pow(10, d));
  if (d % 2 === 1) minorTickValues.push(Math.pow(10, d));
}

const chart = echarts.init(document.getElementById('chart'), null, { renderer: 'canvas' });

const yLabel = {
  fontFamily: serif,
  color: textColor,
  margin: 12,
  formatter: function (v) {
    const e = Math.round(Math.log10(v));
    if (costLabelExponents.indexOf(e) < 0) return '';
    // the top label sits a little below its tick
    if (e === costExpMax) return '{bt|10}{st|' + e + '}';
    return '{b|10}{s|' + e + '}';
  },
  rich: {
    b: { fontFamily: serif, fontSize: 43, lineHeight: 43, color: textColor, verticalAlign: 'top' },
    s: { fontFamily: serif, fontSize: 30, lineHeight: 30, color: textColor, verticalAlign: 'top', padding: [-4, 0, 0, 1] },
    bt: { fontFamily: serif, fontSize: 43, lineHeight: 43, color: textColor, verticalAlign: 'top', padding: [12, 0, 0, 0] },
    st: { fontFamily: serif, fontSize: 30, lineHeight: 30, color: textColor, verticalAlign: 'top', padding: [8, 0, 0, 1] }
  }
};

const titleRich = {
  n: { fontFamily: serif, fontSize: 51, lineHeight: 52, color: textColor },
  i: { fontFamily: serif, fontSize: 51, lineHeight: 52, fontStyle: 'italic', color: textColor }
};

const option = {
  animation: false,
  backgroundColor: '#ffffff',
  grid: { left: 133, right: 44, top: 32, bottom: 120, containLabel: false, outerBoundsMode: 'none' },
  legend: {
    data: ['User cost target'],
    left: 148,
    top: 51,
    padding: 0,
    icon: 'rect',
    itemWidth: 42,
    itemHeight: 3,
    textStyle: { fontFamily: serif, fontSize: 41, color: '#000000', lineHeight: 44 }
  },
  xAxis: [
    {
      type: 'value', position: 'bottom',
      min: magnitudeMin, max: magnitudeMax, interval: magnitudeStep,
      axisLine: { show: true, onZero: false, lineStyle: { color: axisColor, width: 1 } },
      axisTick: { show: true, inside: true, length: 11, lineStyle: { color: axisColor } },
      splitLine: { show: false },
      axisLabel: {
        fontFamily: serif, fontSize: 44, color: textColor, margin: 17,
        formatter: v => String(+v.toFixed(1))
      },
      name: '{n|Magnitude }{i|m}',
      nameLocation: 'middle',
      nameGap: 65,
      nameTextStyle: { rich: titleRich }
    },
    {
      type: 'value', position: 'top',
      min: magnitudeMin, max: magnitudeMax, interval: magnitudeStep,
      axisLine: { show: true, onZero: false, lineStyle: { color: axisColor, width: 1 } },
      axisTick: { show: true, inside: true, length: 11, lineStyle: { color: axisColor } },
      axisLabel: { show: false },
      splitLine: { show: false }
    }
  ],
  yAxis: [
    {
      type: 'log', logBase: 10, position: 'left',
      min: Math.pow(10, costExpMin), max: Math.pow(10, costExpMax), interval: 2,
      axisLine: { show: true, onZero: false, lineStyle: { color: axisColor, width: 1 } },
      axisTick: { show: true, inside: true, length: 11, lineStyle: { color: axisColor } },
      splitLine: { show: false },
      minorTick: { show: false },
      axisLabel: yLabel,
      name: '{n|User cost  }{i|C}{n| [€]}',
      nameLocation: 'middle',
      nameGap: 62,
      nameRotate: 90,
      nameTextStyle: { rich: titleRich }
    },
    {
      type: 'log', logBase: 10, position: 'right',
      min: Math.pow(10, costExpMin), max: Math.pow(10, costExpMax), interval: 2,
      axisLine: { show: true, onZero: false, lineStyle: { color: axisColor, width: 1 } },
      axisTick: { show: true, inside: true, length: 11, lineStyle: { color: axisColor } },
      axisLabel: { show: false },
      splitLine: { show: false }
    }
  ],
  graphic: [
    {
      type: 'text',
      left: 163,
      top: 490,
      z: 100,
      style: {
        text: '{t|t}{s|0}{n|= 80 years}',
        rich: {
          t: { fontFamily: serif, fontSize: 52, lineHeight: 52, fontStyle: 'italic', fill: '#000', verticalAlign: 'top' },
          s: { fontFamily: serif, fontSize: 40, lineHeight: 40, fill: '#000', verticalAlign: 'top', padding: [17, 0, 0, 0] },
          n: { fontFamily: serif, fontSize: 52, lineHeight: 52, fill: '#000', verticalAlign: 'top', padding: [0, 0, 0, 6] }
        }
      }
    }
  ],
  series: [
    {
      name: 'User cost target',
      type: 'line',
      data: [[magnitudeMin, targetCost], [magnitudeMax, targetCost]],
      symbol: 'none',
      silent: true,
      lineStyle: { color: '#ff0000', width: 2.5 },
      itemStyle: { color: '#ff0000' },
      z: 2
    },
    {
      name: 'Events',
      type: 'scatter',
      data: isolatedData,
      symbol: 'circle',
      symbolSize: 3.5,
      silent: true,
      itemStyle: { color: dotColor },
      z: 3
    },
    {
      name: 'Cluster flank',
      type: 'scatter',
      data: flankData,
      symbol: 'circle',
      symbolSize: flankSize,
      silent: true,
      itemStyle: { color: dotColor },
      z: 3
    },
    {
      name: 'Lower cluster core',
      type: 'scatter',
      data: lowerCoreData,
      symbol: 'circle',
      symbolSize: lowerCoreSize,
      silent: true,
      itemStyle: { color: dotColor },
      z: 3
    },
    {
      name: 'Upper band core',
      type: 'scatter',
      data: upperCoreData,
      symbol: 'circle',
      symbolSize: upperCoreSize,
      silent: true,
      itemStyle: { color: dotColor },
      z: 3
    },
    {
      name: 'Minor ticks',
      type: 'custom',
      silent: true,
      clip: false,
      z: 5,
      data: minorTickValues.map(v => [magnitudeMin, v]),
      renderItem: function (params, api) {
        const v = api.value(1);
        const l = api.coord([magnitudeMin, v]);
        const r = api.coord([magnitudeMax, v]);
        const y = Math.round(l[1]) + 0.5;
        return {
          type: 'group',
          children: [
            { type: 'line', shape: { x1: l[0], y1: y, x2: l[0] + 6, y2: y }, style: { stroke: axisColor, lineWidth: 1 } },
            { type: 'line', shape: { x1: r[0] - 6, y1: y, x2: r[0], y2: y }, style: { stroke: axisColor, lineWidth: 1 } }
          ]
        };
      }
    }
  ]
};

chart.setOption(option);
</script>
</body>
</html>
